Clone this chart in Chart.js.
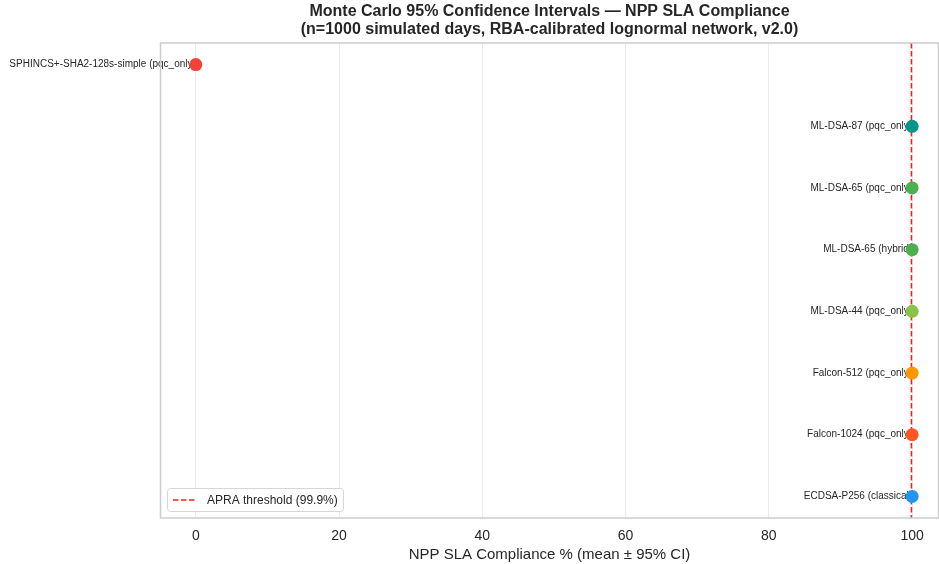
<!DOCTYPE html>
<html>
<head>
<meta charset="utf-8">
<script src="https://cdn.jsdelivr.net/npm/chart.js@4/dist/chart.umd.min.js"></script>
<style>
  html, body { margin: 0; padding: 0; background: #ffffff; }
  #wrap { width: 939px; height: 564px; }
</style>
</head>
<body>
<div id="wrap"><canvas id="c" width="939" height="564"></canvas></div>
<script>
// Signature schemes and modes, top to bottom
const schemes = [
  'SPHINCS+-SHA2-128s-simple (pqc_only)',
  'ML-DSA-87 (pqc_only)',
  'ML-DSA-65 (pqc_only)',
  'ML-DSA-65 (hybrid)',
  'ML-DSA-44 (pqc_only)',
  'Falcon-512 (pqc_only)',
  'Falcon-1024 (pqc_only)',
  'ECDSA-P256 (classical)'
];
// Mean NPP SLA compliance (%) across simulated days
const meanCompliance = [0.0, 100.0, 100.0, 100.0, 100.0, 100.0, 100.0, 100.0];
const pointColors = ['#F44336', '#009688', '#4CAF50', '#4CAF50', '#8BC34A', '#FF9800', '#FF5722', '#2196F3'];
const xTicks = [0, 20, 40, 60, 80, 100];
const apraThreshold = 99.9;

const FONT = '"Liberation Sans", Arial, Helvetica, sans-serif';
const TEXT = '#262626';

const points = schemes.map((s, i) => ({ x: meanCompliance[i], y: i }));

// Title, plot frame, point labels and the threshold legend
const decor = {
  id: 'decor',
  beforeDatasetsDraw(chart) {
    const ctx = chart.ctx;
    const xs = chart.scales.x, ys = chart.scales.y;
    ctx.save();
    ctx.font = '10px ' + FONT;
    ctx.fillStyle = TEXT;
    ctx.textAlign = 'right';
    ctx.textBaseline = 'middle';
    schemes.forEach((s, i) => {
      ctx.fillText(s, xs.getPixelForValue(meanCompliance[i]), ys.getPixelForValue(i));
    });
    ctx.restore();
  },
  afterDraw(chart) {
    const ctx = chart.ctx;
    const a = chart.chartArea;
    ctx.save();
    // frame
    ctx.strokeStyle = '#cccccc';
    ctx.lineWidth = 1.5;
    ctx.strokeRect(a.left + 0.5, a.top, a.right - a.left - 1, a.bottom - a.top);
    // title
    ctx.fillStyle = TEXT;
    ctx.font = 'bold 16px ' + FONT;
    ctx.textAlign = 'center';
    ctx.textBaseline = 'middle';
    const cx = (a.left + a.right) / 2;
    ctx.fillText('Monte Carlo 95% Confidence Intervals \u2014 NPP SLA Compliance', cx, 12);
    ctx.fillText('(n=1000 simulated days, RBA-calibrated lognormal network, v2.0)', cx, 30);
    // legend
    const lx = a.left + 7, ly = a.bottom - 30, lw = 176, lh = 23;
    ctx.fillStyle = 'rgba(255,255,255,0.85)';
    ctx.strokeStyle = '#d6d6d6';
    ctx.lineWidth = 1;
    ctx.beginPath();
    ctx.roundRect(lx + 0.5, ly + 0.5, lw, lh, 3);
    ctx.fill();
    ctx.stroke();
    ctx.strokeStyle = '#ff1a1a';
    ctx.lineWidth = 1.5;
    ctx.setLineDash([5.5, 2.5]);
    ctx.beginPath();
    ctx.moveTo(lx + 6, ly + 12);
    ctx.lineTo(lx + 29, ly + 12);
    ctx.stroke();
    ctx.setLineDash([]);
    ctx.fillStyle = TEXT;
    ctx.font = '12px ' + FONT;
    ctx.textAlign = 'left';
    ctx.fillText('APRA threshold (99.9%)', lx + 40, ly + 12.5);
    ctx.restore();
  }
};

new Chart(document.getElementById('c'), {
  type: 'scatter',
  data: {
    datasets: [
      {
        label: 'Mean compliance',
        data: points,
        pointRadius: 6.5,
        pointHoverRadius: 6.5,
        pointBackgroundColor: pointColors,
        pointBorderColor: pointColors,
        pointBorderWidth: 0
      },
      {
        type: 'line',
        label: 'APRA threshold (99.9%)',
        data: [{ x: apraThreshold, y: -0.35 }, { x: apraThreshold, y: 7.35 }],
        borderColor: '#ff1a1a',
        borderWidth: 1.5,
        borderDash: [5.5, 2.5],
        pointRadius: 0,
        fill: false
      }
    ]
  },
  options: {
    responsive: false,
    animation: false,
    layout: { autoPadding: false, padding: { left: 160, top: 43, right: 0, bottom: 0 } },
    plugins: {
      legend: { display: false },
      title: { display: false },
      tooltip: { enabled: false }
    },
    scales: {
      x: {
        type: 'linear',
        min: -5,
        max: 103.75,
        afterBuildTicks(scale) { scale.ticks = xTicks.map(v => ({ value: v })); },
        afterFit(scale) {
          scale.height = 46;
          scale.paddingLeft = 0;
          scale.paddingRight = 0;
        },
        grid: { color: '#ebebeb', lineWidth: 1, drawTicks: false },
        border: { display: false },
        ticks: { padding: 10, color: TEXT, font: { family: FONT, size: 14 } },
        title: {
          display: true,
          text: 'NPP SLA Compliance % (mean \u00b1 95% CI)',
          color: TEXT,
          font: { family: FONT, size: 15 },
          padding: { top: 0, bottom: 0 }
        }
      },
      y: {
        type: 'linear',
        min: -0.35,
        max: 7.35,
        reverse: true,
        display: false
      }
    }
  },
  plugins: [decor]
});
</script>
</body>
</html>
